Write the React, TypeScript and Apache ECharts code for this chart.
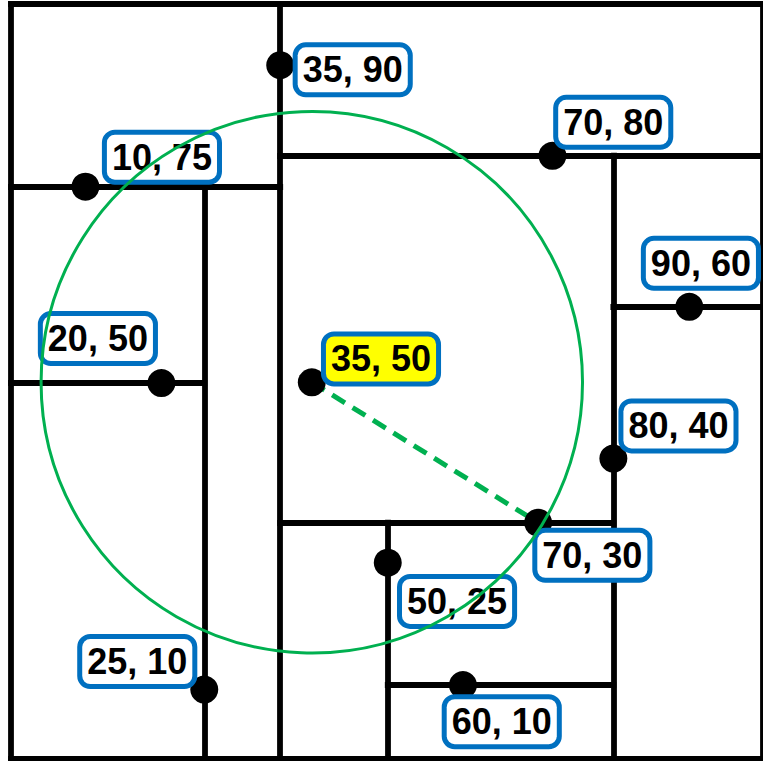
import React, { useEffect, useRef } from "react";
import * as echarts from "echarts";

// k-d tree nodes (label text as written, plotted position)
const nodeLabels = ["35, 90", "10, 75", "70, 80", "25, 10", "80, 40", "20, 50", "90, 60", "70, 30", "50, 25", "60, 10"];
const nodeX = [35.8, 9.9, 72.0, 25.7, 80.1, 20.0, 90.2, 70.1, 50.1, 60.1];
const nodeY = [91.9, 75.8, 79.9, 9.2, 39.8, 49.8, 59.9, 31.3, 26.0, 9.8];
const splitAxis = ["x", "y", "y", "x", "x", "y", "y", "y", "x", "y"];
const parentIndex = [-1, 0, 0, 1, 2, 3, 4, 4, 7, 8];
const childSide = ["", "lo", "hi", "lo", "lo", "lo", "hi", "lo", "lo", "hi"];

// query point and search result
const queryLabel = "35, 50";
const queryX = 40.0;
const queryY = 49.9;
const nearestIndex = 7;
const searchRadius = 36.0;

// label placement (pixel offsets from dot centres) — layout only
const labelOffsets: [number, number][] = [
  [72.5, 4.7], [76.5, -29.5], [60.8, -33.4], [-67, -28], [65.1, -32.6],
  [-63.5, -44.4], [11.6, -43.4], [54.2, 32.6], [69.3, 38.7], [38.8, 36.7],
];
const queryLabelOffset: [number, number] = [69.2, -23.3];

const GREEN = "#00b050";
const BLUE = "#0070c0";

function buildSegments() {
  const bounds: { x0: number; x1: number; y0: number; y1: number }[] = [];
  const segs: number[][][] = [];
  for (let i = 0; i < nodeX.length; i++) {
    let b = { x0: 0, x1: 100, y0: 0, y1: 100 };
    const p = parentIndex[i];
    if (p >= 0) {
      b = { ...bounds[p] };
      if (splitAxis[p] === "x") {
        if (childSide[i] === "lo") b.x1 = nodeX[p];
        else b.x0 = nodeX[p];
      } else {
        if (childSide[i] === "lo") b.y1 = nodeY[p];
        else b.y0 = nodeY[p];
      }
    }
    bounds.push(b);
    if (splitAxis[i] === "x") segs.push([[nodeX[i], b.y0], [nodeX[i], b.y1]]);
    else segs.push([[b.x0, nodeY[i]], [b.x1, nodeY[i]]]);
  }
  // outer box
  segs.push([[0, 0], [100, 0]], [[100, 0], [100, 100]], [[100, 100], [0, 100]], [[0, 100], [0, 0]]);
  return segs;
}

export default function App() {
  const ref = useRef<HTMLDivElement>(null);
  useEffect(() => {
    if (!ref.current) return;
    const chart = echarts.init(ref.current, null, { renderer: "svg" });
    const segments = buildSegments();
    const labelBase = {
      show: true,
      position: "inside",
      formatter: (p: any) => p.name,
      color: "#000",
      opacity: 1,
      fontFamily: "Liberation Sans, Arial, sans-serif",
      fontWeight: "bold",
      fontSize: 36,
      lineHeight: 39,
      backgroundColor: "#fff",
      borderColor: BLUE,
      borderWidth: 5,
      borderRadius: 8,
      padding: [3, 5],
      align: "center",
      verticalAlign: "middle",
      textBorderWidth: 0,
    };
    const pointsData: any[] = nodeLabels.map((name, i) => ({
      name,
      value: [nodeX[i], nodeY[i]],
      label: { offset: labelOffsets[i] },
    }));
    pointsData.push({
      name: queryLabel,
      value: [queryX, queryY],
      label: { offset: queryLabelOffset, backgroundColor: "#ffff00" },
    });
    chart.setOption({
      animation: false,
      backgroundColor: "#fff",
      grid: { left: 11, top: 4, width: 755, height: 755 },
      xAxis: { type: "value", min: 0, max: 100, show: false },
      yAxis: { type: "value", min: 0, max: 100, show: false },
      series: [
        {
          type: "lines",
          coordinateSystem: "cartesian2d",
          silent: true,
          z: 1,
          data: segments.map((s) => ({ coords: s })),
          lineStyle: { color: "#000", width: 5.8, opacity: 1, curveness: 0, cap: "square" },
        },
        {
          type: "line",
          z: 2,
          silent: true,
          symbol: "none",
          data: [[queryX, queryY], [nodeX[nearestIndex], nodeY[nearestIndex]]],
          lineStyle: { color: GREEN, width: 5, type: [15, 9], opacity: 1 },
        },
        {
          type: "scatter",
          z: 3,
          symbol: "circle",
          symbolSize: 28,
          itemStyle: { color: "#000", opacity: 1 },
          emphasis: { disabled: true },
          label: labelBase,
          data: pointsData,
        },
        {
          type: "custom",
          z: 10,
          silent: true,
          encode: { x: 0, y: 1 },
          data: [[queryX, queryY, searchRadius]],
          renderItem: (params: any, api: any) => {
            const c = api.coord([api.value(0), api.value(1)]);
            const r = api.size([api.value(2), 0])[0];
            return {
              type: "circle",
              shape: { cx: c[0], cy: c[1], r },
              style: { fill: "none", stroke: GREEN, lineWidth: 3 },
            };
          },
        },
      ],
    });
    return () => chart.dispose();
  }, []);
  return (
    <div
      ref={ref}
      style={{ position: "absolute", left: 0, top: 0, width: 763, height: 761 }}
    />
  );
}
